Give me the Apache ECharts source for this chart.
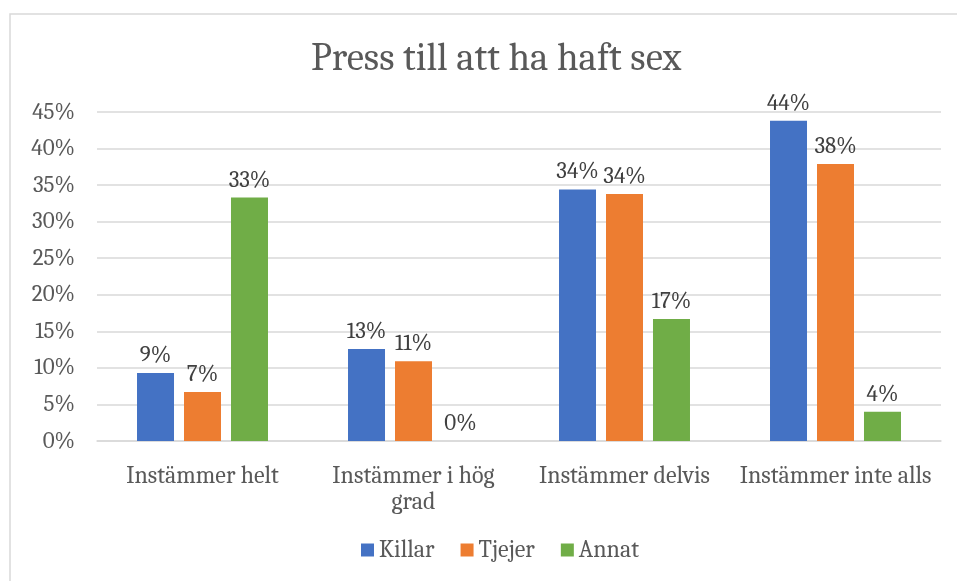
<!DOCTYPE html>
<html>
<head>
<meta charset="utf-8">
<script src="https://cdn.jsdelivr.net/npm/echarts@6/dist/echarts.min.js"></script>
<style>
  html, body { margin: 0; padding: 0; background: #fff; }
  #chart { width: 957px; height: 581px; }
</style>
</head>
<body>
<div id="chart"></div>
<script>
const categories = ["Instämmer helt", "Instämmer i hög\ngrad", "Instämmer delvis", "Instämmer inte alls"];
const killar = [9.3, 12.6, 34.4, 43.8];
const tjejer = [6.7, 10.9, 33.8, 37.9];
const annat = [33.3, 0, 16.7, 4.0];
const seriesNames = ["Killar", "Tjejer", "Annat"];
const colors = ["#4472C4", "#ED7D31", "#70AD47"];

const font = "Cambria, 'DejaVu Serif', serif";
const chart = echarts.init(document.getElementById("chart"));

const label = {
  show: true,
  position: "top",
  distance: 6,
  color: "#404040",
  fontFamily: font,
  fontSize: 23,
  formatter: p => Math.round(p.value) + "%"
};

chart.setOption({
  animation: false,
  color: colors,
  textStyle: { fontFamily: font },
  title: {
    text: "Press till att ha haft sex",
    left: 306,
    top: 34,
    textStyle: { fontFamily: font, fontSize: 39, fontWeight: "normal", color: "#595959" }
  },
  graphic: [{
    type: "rect",
    shape: { x: 10, y: 14, width: 980, height: 600 },
    style: { fill: "none", stroke: "#d9d9d9", lineWidth: 1.5 },
    silent: true
  }],
  legend: {
    bottom: 14,
    left: 356,
    itemWidth: 13,
    itemHeight: 13,
    itemGap: 26,
    icon: "rect",
    textStyle: { fontFamily: font, fontSize: 24, color: "#595959" },
    data: seriesNames
  },
  grid: { left: 97, right: 16, top: 112, bottom: 140, containLabel: false },
  xAxis: {
    type: "category",
    data: categories,
    axisLine: { lineStyle: { color: "#d9d9d9", width: 1.5 } },
    axisTick: { show: false },
    axisLabel: {
      interval: 0,
      hideOverlap: false,
      color: "#595959",
      fontFamily: font,
      fontSize: 24,
      margin: 22,
      lineHeight: 26
    }
  },
  yAxis: {
    type: "value",
    min: 0,
    max: 45,
    interval: 5,
    axisLine: { show: false },
    axisTick: { show: false },
    axisLabel: { color: "#595959", fontFamily: font, fontSize: 23, margin: 22, formatter: "{value}%" },
    splitLine: { lineStyle: { color: "#d9d9d9", width: 1.5 } }
  },
  series: [
    { name: seriesNames[0], type: "bar", data: killar, barWidth: 37, barGap: "27%", label },
    { name: seriesNames[1], type: "bar", data: tjejer, barWidth: 37, barGap: "27%", label },
    { name: seriesNames[2], type: "bar", data: annat, barWidth: 37, barGap: "27%", label }
  ]
});
</script>
</body>
</html>
